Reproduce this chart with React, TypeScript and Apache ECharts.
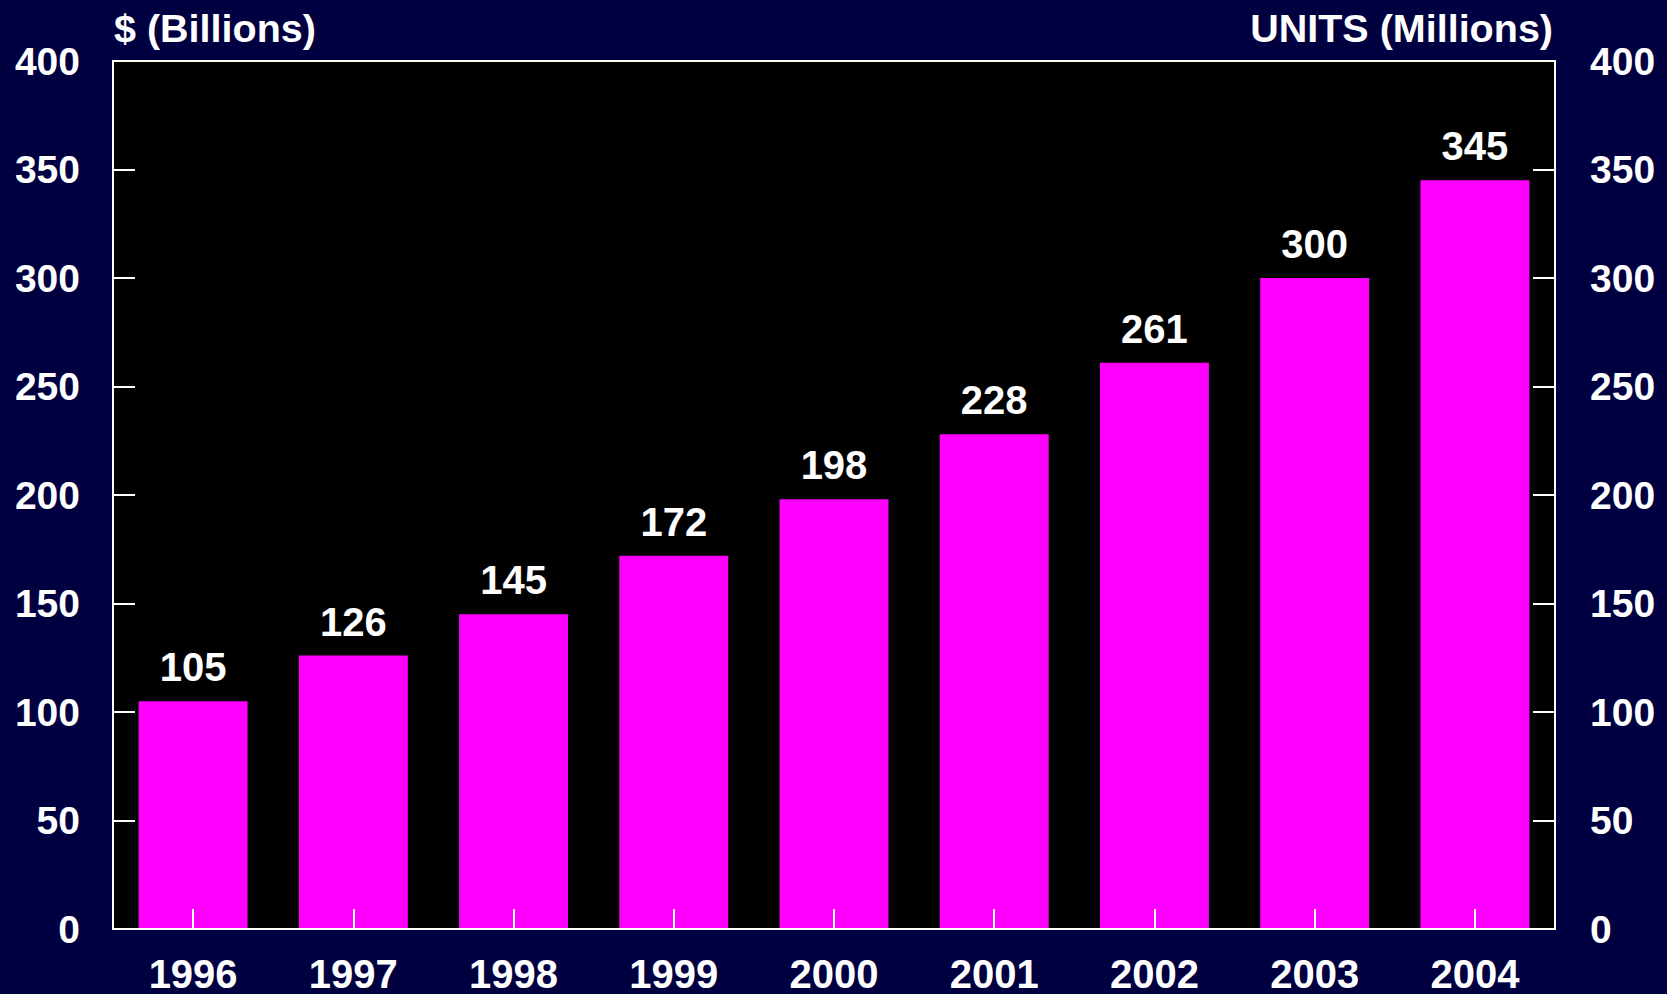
import React, { useEffect, useRef } from "react";
import * as echarts from "echarts";

const years = ["1996", "1997", "1998", "1999", "2000", "2001", "2002", "2003", "2004"];
const values = [105, 126, 145, 172, 198, 228, 261, 300, 345];
const leftTitle = "$ (Billions)";
const rightTitle = "UNITS (Millions)";

const FONT = "'Liberation Sans', Arial, sans-serif";

export default function App() {
  const ref = useRef<HTMLDivElement>(null);
  useEffect(() => {
    if (!ref.current) return;
    const chart = echarts.init(ref.current, undefined, { renderer: "svg" });
    const yAxisBase = {
      type: "value",
      min: 0,
      max: 400,
      interval: 50,
      splitLine: { show: false },
      axisLine: { show: true, lineStyle: { color: "#fff", width: 2 } },
      axisTick: { show: true, inside: true, length: 22, lineStyle: { color: "#fff", width: 2 } },
      axisLabel: { color: "#fff", fontSize: 39, fontWeight: "bold", fontFamily: FONT, margin: 33 },
      z: 3,
    };
    chart.setOption({
      animation: false,
      backgroundColor: "#000040",
      grid: {
        left: 113,
        right: 112,
        top: 61,
        bottom: 65,
        show: true,
        backgroundColor: "#000",
        borderColor: "#fff",
        borderWidth: 2,
      },
      graphic: [
        {
          type: "text",
          left: 114,
          top: 8,
          style: { text: leftTitle, fill: "#fff", font: `bold 39.5px ${FONT}` },
        },
        {
          type: "text",
          right: 114,
          top: 8,
          style: { text: rightTitle, fill: "#fff", font: `bold 39.5px ${FONT}` },
        },
      ],
      xAxis: {
        type: "category",
        data: years,
        z: 3,
        axisLine: { show: true, lineStyle: { color: "#fff", width: 2 } },
        axisTick: { show: true, inside: true, alignWithLabel: true, length: 20, lineStyle: { color: "#fff", width: 2 } },
        axisLabel: { color: "#fff", fontSize: 40, fontWeight: "bold", fontFamily: FONT, margin: 25 },
      },
      yAxis: [
        { ...yAxisBase, position: "left" },
        { ...yAxisBase, position: "right", axisLabel: { ...yAxisBase.axisLabel, margin: 35 } },
      ],
      series: [
        {
          type: "bar",
          data: values,
          barWidth: "68%",
          itemStyle: { color: "#ff00ff" },
          label: {
            show: true,
            position: "top",
            distance: 14,
            color: "#fff",
            fontSize: 40,
            fontWeight: "bold",
            fontFamily: FONT,
          },
        },
      ],
    });
    return () => chart.dispose();
  }, []);
  return (
    <div
      ref={ref}
      style={{ position: "fixed", left: 0, top: 0, width: 1667, height: 994 }}
    />
  );
}
